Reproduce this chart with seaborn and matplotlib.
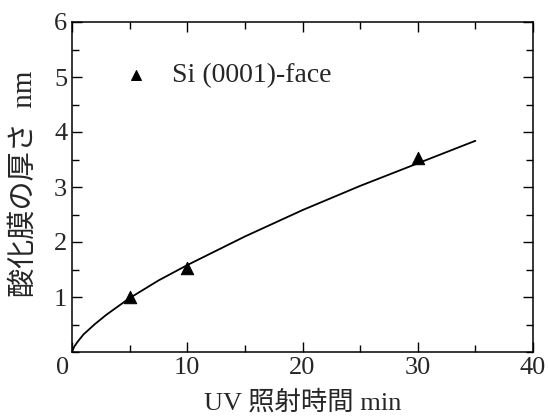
import numpy as np
import pandas as pd
import matplotlib
matplotlib.use("Agg")
from matplotlib import pyplot as plt
from matplotlib.ticker import MultipleLocator
import seaborn as sns

# measured points
t_meas = [5, 10, 30]
d_meas = [1.0, 1.52, 3.52]
# fitted curve
t_fit = [0, 0.2, 0.5, 1, 2, 3, 5, 7.5, 10, 15, 20, 25, 30, 35]
d_fit = [0, 0.10, 0.19, 0.32, 0.51, 0.68, 0.98, 1.30, 1.58, 2.10, 2.58, 3.02, 3.43, 3.84]
series_label = "Si (0001)-face"
x_ticks = [0, 10, 20, 30, 40]
x_ticklabels = ['', '10', '20', '30', '40']
y_ticks = [1, 2, 3, 4, 5, 6]

sns.set_style("ticks")
plt.rcParams['font.family'] = ['Liberation Serif', 'Noto Sans CJK JP']

fig = plt.figure(figsize=(5.49, 4.16), dpi=100)
ax = fig.add_axes([72 / 549, 1 - 352 / 416, 461 / 549, 330 / 416])

sns.lineplot(x=t_fit, y=d_fit, ax=ax, color='black', linewidth=1.3)
sns.scatterplot(x=t_meas, y=d_meas, ax=ax, marker='^', s=80, color='black',
                edgecolor='black', label=series_label, zorder=3)

ax.set_xlim(0, 40)
ax.set_ylim(0, 6)
ax.set_xticks(x_ticks)
ax.set_xticklabels(x_ticklabels)
ax.xaxis.set_minor_locator(MultipleLocator(5))
ax.yaxis.set_minor_locator(MultipleLocator(0.5))
ax.set_yticks(y_ticks)
ax.tick_params(which='both', direction='in', top=True, right=True, labelsize=19,
               color='black', width=1)
ax.tick_params(which='major', length=7)
ax.tick_params(which='minor', length=5)
for sp in ax.spines.values():
    sp.set_color('black')
    sp.set_linewidth(1.1)
# the origin label sits a little left of the corner
ax.annotate('0', xy=(0, 0), xycoords='axes fraction', xytext=(-6.5, -3.5),
            textcoords='offset points', ha='center', va='top', fontsize=19)

ax.set_xlabel('UV 照射時間 min', fontsize=19)
ax.set_ylabel('酸化膜の厚さ  nm', fontsize=21)
ax.xaxis.set_label_coords(0.5, -0.115)
ax.yaxis.set_label_coords(-0.075, 0.51)

leg = ax.legend(loc='upper left', bbox_to_anchor=(0.055, 0.91), frameon=False,
                fontsize=20, handletextpad=0.3, markerscale=0.8,
                borderaxespad=0)

fig.savefig('out.png', dpi=100)
